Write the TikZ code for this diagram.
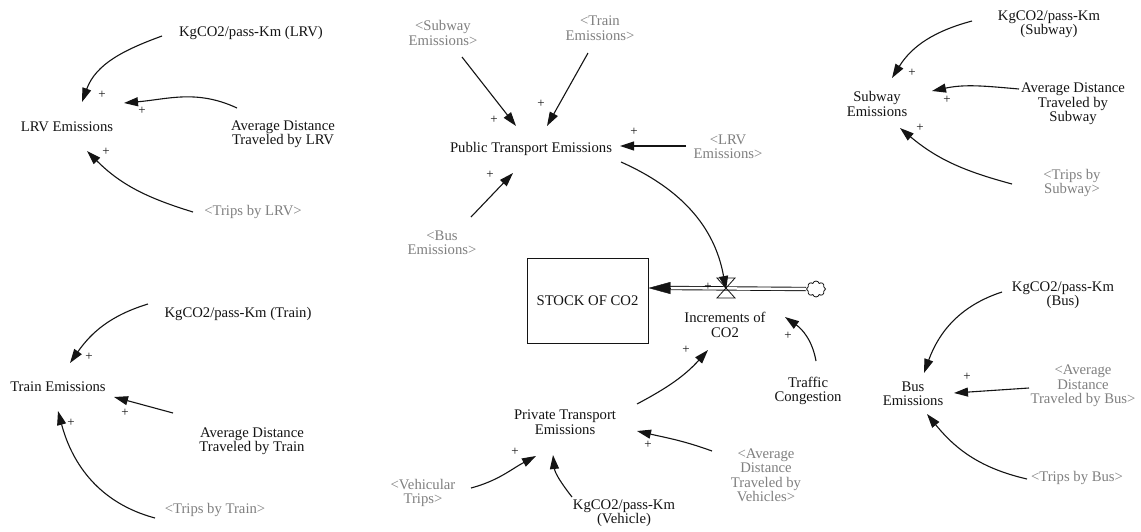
\documentclass[tikz,border=0pt]{standalone}
\usepackage{fontspec}
\setmainfont{Liberation Serif}
\usetikzlibrary{arrows.meta,shapes.symbols}
\definecolor{refgray}{RGB}{128,128,128}
\definecolor{ink}{RGB}{20,20,20}
\begin{document}
\begin{tikzpicture}[x=1pt,y=1pt,
  txt/.style={align=center,inner sep=0pt,text=ink,font=\fontsize{14.7}{14.5}\selectfont},
  shadow/.style={txt,text=refgray},
  plus/.style={inner sep=0pt,text=ink,font=\fontsize{13}{13}\selectfont},
  link/.style={line width=1.1pt,draw=ink,-{Triangle[length=14pt,width=9pt]}},
  pipe/.style={draw=ink,double=white,double distance=2.5pt,line width=0.9pt},
]
\fill[white] (0,0) rectangle (1141,-531);
\useasboundingbox (0,0) rectangle (1141,-531);

% ---------- LRV emissions ----------
\node[txt] (kgLRV) at (251,-33) {KgCO2/pass-Km (LRV)};
\node[txt] (lrvE) at (67,-127) {LRV Emissions};
\node[txt] (adLRV) at (283,-134) {Average Distance\\Traveled by LRV};
\node[shadow] (tLRV) at (253,-212) {<Trips by LRV>};
\draw[link] ([shift={(-89,-3)}]kgLRV.center) to[out=200,in=70] ([shift={(15,25)}]lrvE.center);
\draw[link] ([shift={(-46,26)}]adLRV.center) to[out=155,in=5] ([shift={(57,24)}]lrvE.center);
\draw[link] ([shift={(-60,0)}]tLRV.center) to[out=163,in=315] ([shift={(20,-24)}]lrvE.center);
\node[plus] (pA1) at (102,-95) {+};
\node[plus] (pA2) at (142,-111) {+};
\node[plus] (pA3) at (106,-152) {+};

% ---------- Public transport ----------
\node[shadow] (subRef) at (443,-33) {<Subway\\Emissions>};
\node[shadow] (trRef) at (600,-28) {<Train\\Emissions>};
\node[txt] (pte) at (531,-149) {Public Transport Emissions};
\node[shadow] (lrvRef) at (728,-147) {<LRV\\Emissions>};
\node[shadow] (busRef) at (442,-243) {<Bus\\Emissions>};
\draw[link] ([shift={(19,-24)}]subRef.center) -- ([shift={(-15,23)}]pte.center);
\draw[link] ([shift={(-12,-25)}]trRef.center) -- ([shift={(16,23)}]pte.center);
\draw[link] ([shift={(-42,1)}]lrvRef.center) -- ([shift={(89,3)}]pte.center);
\draw[link] ([shift={(29,26)}]busRef.center) -- ([shift={(-18,-24)}]pte.center);
\node[plus] (pA4) at (494,-120) {+};
\node[plus] (pA5) at (541,-104) {+};
\node[plus] (pA6) at (634,-132) {+};
\node[plus] (pA7) at (490,-175) {+};

% ---------- Stock and flow ----------
\node[draw=ink,line width=0.9pt,minimum width=121pt,minimum height=85pt,inner sep=0pt,
      font=\fontsize{14.7}{14.5}\selectfont,text=ink] (stock) at (587.5,-300.5) {STOCK OF CO2};
\node[cloud,draw=ink,line width=0.8pt,cloud puffs=8,aspect=1.2,minimum width=19pt,
      minimum height=16pt,inner sep=0pt] (cloud) at (816,-289) {};
\coordinate (inflow) at ([yshift=12.5]stock.east);
\coordinate (valve) at (726,-288);
\draw[pipe] (cloud.west) -- ([xshift=21]inflow);
\draw[line width=0.4pt,draw=ink,-{Triangle[length=22pt,width=12pt]}] ([xshift=22]inflow) -- (inflow);
\draw[draw=ink,line width=0.8pt] ([shift={(-9,10)}]valve) -- ([shift={(9,10)}]valve)
  -- ([shift={(-9,-10)}]valve) -- ([shift={(9,-10)}]valve) -- cycle;
\node[txt] (incr) at (725,-325) {Increments of\\CO2};
\draw[link] ([shift={(90,-13)}]pte.center) to[out=336,in=100] ([shift={(0,-2)}]valve);
\node[plus] (pA8) at (708,-287) {+};

% ---------- Private transport ----------
\node[txt] (traffic) at (808,-391) {Traffic\\Congestion};
\node[txt] (prE) at (565,-422) {Private Transport\\Emissions};
\node[shadow] (vehT) at (423,-493) {<Vehicular\\Trips>};
\node[txt] (kgVeh) at (624,-513) {KgCO2/pass-Km\\(Vehicle)};
\node[shadow] (adVeh) at (766,-475) {<Average\\Distance\\Traveled by\\Vehicles>};
\draw[link] ([shift={(72,18)}]prE.center) to[out=28,in=228] ([shift={(-17,-25)}]incr.center);
\draw[link] ([shift={(8,30)}]traffic.center) to[out=100,in=325] ([shift={(60,8)}]incr.center);
\draw[link] ([shift={(48,5)}]vehT.center) to[out=15,in=208] ([shift={(-29,-34)}]prE.center);
\draw[link] ([shift={(-52,16)}]kgVeh.center) to[out=128,in=276] ([shift={(-12,-33)}]prE.center);
\draw[link] ([shift={(-54,24)}]adVeh.center) to[out=160,in=347] ([shift={(72,-9)}]prE.center);
\node[plus] (pA9) at (686,-350) {+};
\node[plus] (pA10) at (788,-336) {+};
\node[plus] (pA11) at (515,-452) {+};
\node[plus] (pA13) at (648,-445) {+};

% ---------- Subway emissions ----------
\node[txt] (kgSub) at (1049,-24) {KgCO2/pass-Km\\(Subway)};
\node[txt] (subEm) at (877,-104) {Subway\\Emissions};
\node[txt] (adSub) at (1073,-104) {Average Distance\\Traveled by\\Subway};
\node[shadow] (tSub) at (1072,-183) {<Trips by\\Subway>};
\draw[link] ([shift={(-77,3)}]kgSub.center) to[out=195,in=58] ([shift={(15,26)}]subEm.center);
\draw[link] ([shift={(-54,15)}]adSub.center) to[out=175,in=12] ([shift={(55,13)}]subEm.center);
\draw[link] ([shift={(-60,-1)}]tSub.center) to[out=165,in=320] ([shift={(23,-24)}]subEm.center);
\node[plus] (pA14) at (912,-73) {+};
\node[plus] (pA15) at (947,-100) {+};
\node[plus] (pA16) at (920,-128) {+};

% ---------- Bus emissions ----------
\node[txt] (kgBus) at (1063,-295) {KgCO2/pass-Km\\(Bus)};
\node[txt] (busEm) at (913,-394) {Bus\\Emissions};
\node[shadow] (adBus) at (1083,-386) {<Average\\Distance\\Traveled by Bus>};
\node[shadow] (tBus) at (1077,-478) {<Trips by Bus>};
\draw[link] ([shift={(-61,3)}]kgBus.center) to[out=198,in=70] ([shift={(11,21)}]busEm.center);
\draw[link] ([shift={(-54,-2)}]adBus.center) -- ([shift={(41,1)}]busEm.center);
\draw[link] ([shift={(-50,-1)}]tBus.center) to[out=167,in=309] ([shift={(14,-20)}]busEm.center);
\node[plus] (pA18) at (967,-377) {+};

% ---------- Train emissions ----------
\node[txt] (kgTr) at (238,-314) {KgCO2/pass-Km (Train)};
\node[txt] (trEm) at (58,-387) {Train Emissions};
\node[txt] (adTr) at (252,-441) {Average Distance\\Traveled by Train};
\node[shadow] (tTr) at (215,-510) {<Trips by Train>};
\draw[link] ([shift={(-90,10)}]kgTr.center) to[out=197,in=55] ([shift={(12,24)}]trEm.center);
\draw[link] ([shift={(-79,28)}]adTr.center) -- ([shift={(56,-10)}]trEm.center);
\draw[link] ([shift={(-60,-8)}]tTr.center) to[out=165,in=285] ([shift={(0,-24)}]trEm.center);
\node[plus] (pA20) at (89,-357) {+};
\node[plus] (pA21) at (125,-413) {+};
\node[plus] (pA22) at (71,-423) {+};
\end{tikzpicture}
\end{document}
